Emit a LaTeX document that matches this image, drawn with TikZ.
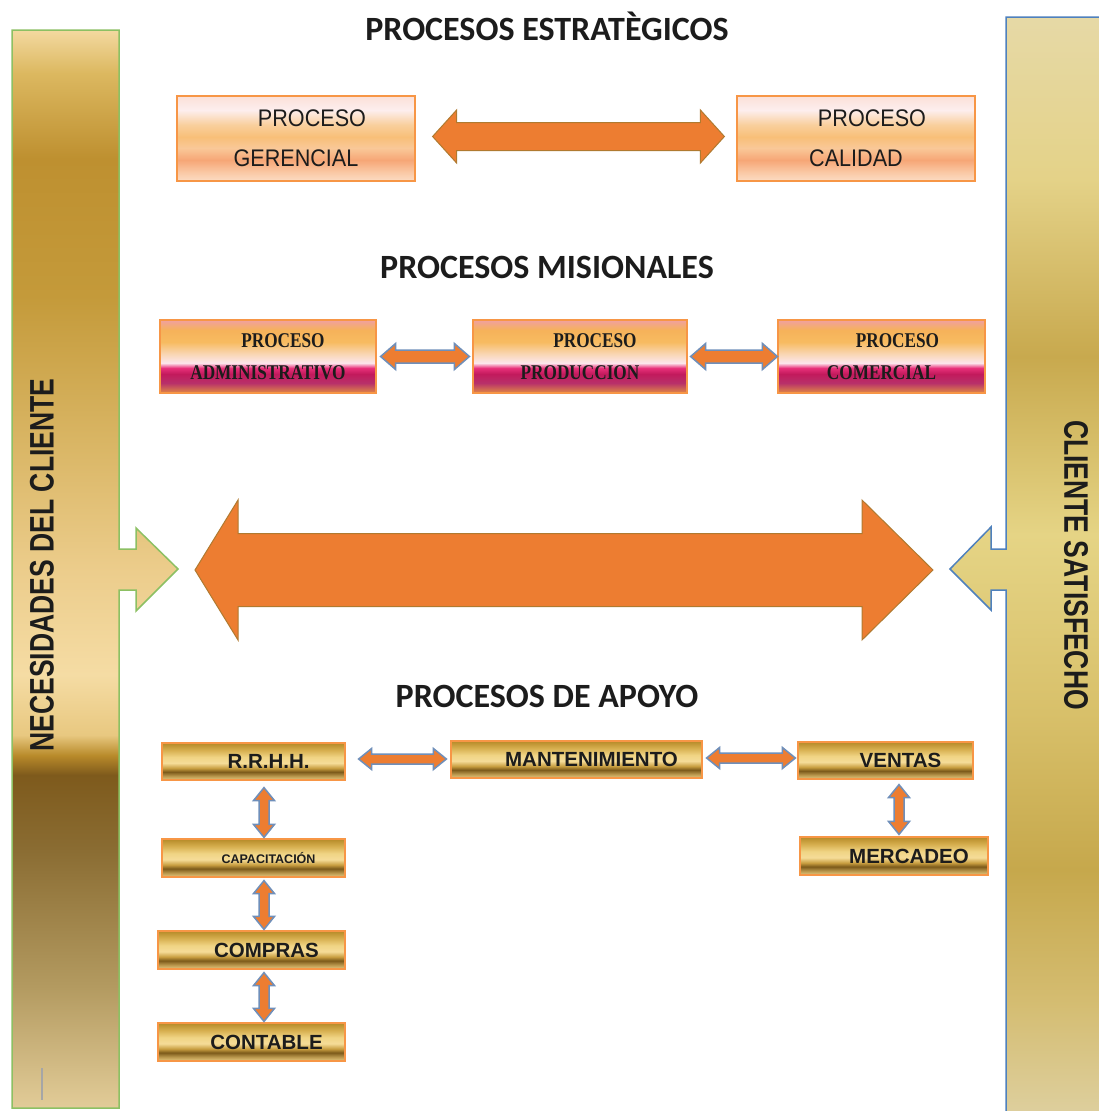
\documentclass[tikz,border=0pt]{standalone}
\usepackage{fontspec}
\setmainfont{Liberation Sans}
\newfontfamily\headfont{Carlito}
\newfontfamily\barfont[FakeStretch=0.78]{Liberation Sans}
\newfontfamily\narrowfont[FakeStretch=0.9]{Liberation Sans}
\newfontfamily\misfont[FakeStretch=0.82]{Liberation Serif}
\usetikzlibrary{calc}

\definecolor{txt}{HTML}{1C1C1C}
\definecolor{boxline}{HTML}{F79646}
\definecolor{flecha}{HTML}{ED7D31}
\definecolor{flechaborde}{HTML}{6F8FBA}
\definecolor{bigborde}{HTML}{B07A30}
\definecolor{verde}{HTML}{8CC063}
\definecolor{azul}{HTML}{4F81BD}
%% strategic boxes
\definecolor{estA}{HTML}{FCDCC4}
\definecolor{estB}{HTML}{FAC8A4}
\definecolor{estC}{HTML}{F6A676}
\definecolor{estD}{HTML}{F9C898}
\definecolor{estE}{HTML}{F8BF78}
\definecolor{estF}{HTML}{F9CF9C}
\definecolor{estG}{HTML}{FDEEEE}
\definecolor{estH}{HTML}{FBE0D8}
\pgfdeclareverticalshading{estshade}{100bp}{color(0bp)=(estA); color(25bp)=(estA); color(30.3bp)=(estB); color(37.35bp)=(estC); color(44.4bp)=(estD); color(50.9bp)=(estE); color(57.95bp)=(estF); color(66.75bp)=(estG); color(75bp)=(estH); color(100bp)=(estH)}
%% mission boxes
\definecolor{misA}{HTML}{E08A44}
\definecolor{misB}{HTML}{B8306A}
\definecolor{misC}{HTML}{C21A5C}
\definecolor{misD}{HTML}{E8307A}
\definecolor{misE}{HTML}{FCE6EC}
\definecolor{misF}{HTML}{F9D6B4}
\definecolor{misG}{HTML}{F7BB60}
\definecolor{misH}{HTML}{F6B25A}
\definecolor{misI}{HTML}{F0A0A0}
\pgfdeclareverticalshading{misshade}{100bp}{color(0bp)=(misA); color(25bp)=(misA); color(31.85bp)=(misB); color(38bp)=(misC); color(42.1bp)=(misD); color(45.55bp)=(misE); color(51.7bp)=(misF); color(59.95bp)=(misG); color(68.15bp)=(misH); color(75bp)=(misI); color(100bp)=(misI)}
%% support boxes
\definecolor{goldA}{HTML}{E6CA80}
\definecolor{goldB}{HTML}{B8964C}
\definecolor{goldC}{HTML}{7C5A1A}
\definecolor{goldD}{HTML}{C89E40}
\definecolor{goldE}{HTML}{F5DC98}
\definecolor{goldF}{HTML}{F0D484}
\definecolor{goldG}{HTML}{D6AE4E}
\definecolor{goldH}{HTML}{B58A28}
\pgfdeclareverticalshading{goldshade}{100bp}{color(0bp)=(goldA); color(25bp)=(goldA); color(30.5bp)=(goldB); color(36bp)=(goldC); color(41bp)=(goldD); color(48bp)=(goldE); color(56bp)=(goldF); color(65.5bp)=(goldG); color(75bp)=(goldH); color(100bp)=(goldH)}
%% left bar
\definecolor{lbA}{HTML}{E2CC98}
\definecolor{lbB}{HTML}{B39A60}
\definecolor{lbC}{HTML}{8A6C32}
\definecolor{lbD}{HTML}{7E5A1C}
\definecolor{lbE}{HTML}{B88A2A}
\definecolor{lbF}{HTML}{E8C880}
\definecolor{lbG}{HTML}{F5DCA4}
\definecolor{lbH}{HTML}{ECCD8C}
\definecolor{lbI}{HTML}{D8B462}
\definecolor{lbJ}{HTML}{C49A3A}
\definecolor{lbK}{HTML}{BE9030}
\definecolor{lbL}{HTML}{DCB860}
\definecolor{lbM}{HTML}{F3D9A0}
\pgfdeclareverticalshading{leftshade}{100bp}{color(0bp)=(lbA); color(25bp)=(lbA); color(30.65bp)=(lbB); color(37.05bp)=(lbC); color(40.45bp)=(lbD); color(41.35bp)=(lbE); color(42.3bp)=(lbF); color(45.1bp)=(lbG); color(49.85bp)=(lbH); color(56.25bp)=(lbI); color(62.65bp)=(lbJ); color(69.05bp)=(lbK); color(73bp)=(lbL); color(75bp)=(lbM); color(100bp)=(lbM)}
%% right bar
\definecolor{rbA}{HTML}{DED0A0}
\definecolor{rbB}{HTML}{D4BC70}
\definecolor{rbC}{HTML}{C6A84C}
\definecolor{rbD}{HTML}{D8C06A}
\definecolor{rbE}{HTML}{E5D485}
\definecolor{rbF}{HTML}{C8A94E}
\definecolor{rbG}{HTML}{E4D288}
\definecolor{rbH}{HTML}{E6D9A6}
\pgfdeclareverticalshading{rightshade}{100bp}{color(0bp)=(rbA); color(25bp)=(rbA); color(30.5bp)=(rbB); color(36.35bp)=(rbC); color(43.45bp)=(rbD); color(51.55bp)=(rbE); color(59.6bp)=(rbF); color(67.65bp)=(rbG); color(75bp)=(rbH); color(100bp)=(rbH)}

\begin{document}
\begin{tikzpicture}[x=1pt,y=-1pt,
        every node/.style={inner sep=0pt,text=txt},
        titulo/.style={font=\headfont\bfseries\fontsize{34}{38}\selectfont},
        barra/.style={font=\barfont\bfseries\fontsize{34}{40}\selectfont},
        estbox/.style={draw=boxline,line width=1.2pt,shading=estshade,minimum width=238pt,minimum height=85pt,align=center,font=\narrowfont\fontsize{24}{40}\selectfont},
        misbox/.style={draw=boxline,line width=1.2pt,shading=misshade,minimum height=73pt,align=center,font=\misfont\bfseries\fontsize{21}{32}\selectfont},
        apobox/.style={draw=boxline,line width=1.2pt,shading=goldshade,minimum height=37pt,font=\bfseries\fontsize{20.5}{24}\selectfont,execute at begin node={\hspace*{30pt}}},
        fatarrow/.style n args={4}{to path={
            -- ($(\tikztostart)!#1!(\tikztotarget)!#3!90:(\tikztotarget)$)
            -- ($(\tikztostart)!#1!(\tikztotarget)!#4!90:(\tikztotarget)$)
            -- ($(\tikztotarget)!#2!(\tikztostart)!#4!-90:(\tikztostart)$)
            -- ($(\tikztotarget)!#2!(\tikztostart)!#3!-90:(\tikztostart)$)
            -- (\tikztotarget)
            -- ($(\tikztotarget)!#2!(\tikztostart)!#3!90:(\tikztostart)$)
            -- ($(\tikztotarget)!#2!(\tikztostart)!#4!90:(\tikztostart)$)
            -- ($(\tikztostart)!#1!(\tikztotarget)!#4!-90:(\tikztotarget)$)
            -- ($(\tikztostart)!#1!(\tikztotarget)!#3!-90:(\tikztotarget)$)
            -- cycle}},
        misflecha/.style={fatarrow={15pt}{15pt}{13pt}{6.5pt},fill=flecha,draw=flechaborde,line width=1.5pt},
        apoflecha/.style={fatarrow={13pt}{13pt}{10.5pt}{5pt},fill=flecha,draw=flechaborde,line width=1.5pt}
    ]
    \useasboundingbox (0,0) rectangle (1098,1111);
    \fill[white] (0,0) rectangle (1098,1111);
    %% Side bars
    \shadedraw[shading=leftshade,draw=verde,line width=1.5pt] (12,30) -- (119,30) -- (119,549) -- (136,549) -- (136,528) -- (178,569) -- (136,611) -- (136,590) -- (119,590) -- (119,1108) -- (12,1108) -- cycle;
    \shadedraw[shading=rightshade,draw=azul,line width=1.5pt] (1006,17) -- (1110,17) -- (1110,1120) -- (1006,1120) -- (1006,590) -- (991,590) -- (991,610) -- (950,569) -- (991,527) -- (991,549) -- (1006,549) -- cycle;
    \draw[gray!70,line width=1.5pt] (42,1068) -- (42,1100);
    \node[barra,rotate=90] (necesidades) at (42,565) {NECESIDADES DEL CLIENTE};
    \node[barra,rotate=-90] (satisfecho) at (1076,565) {CLIENTE SATISFECHO};
    %% Headings
    \node[titulo] (hest) at (547,26) {PROCESOS ESTRATÈGICOS};
    \node[titulo] (hmis) at (547,267) {PROCESOS MISIONALES};
    \node[titulo] (hapo) at (547,696) {PROCESOS DE APOYO};
    %% Strategic processes
    \node[estbox] (ger) at (296,138.5) {\hspace*{32pt}PROCESO\\GERENCIAL};
    \node[estbox] (cal) at (856,138.5) {\hspace*{32pt}PROCESO\\CALIDAD};
    \draw[fatarrow={24pt}{24pt}{26.5pt}{14pt},fill=flecha,draw=bigborde,line width=1pt] ([xshift=17pt,yshift=2pt]ger.east) to ([xshift=-12pt,yshift=2pt]cal.west);
    %% Mission processes
    \node[misbox,minimum width=216pt] (adm) at (268,356.5) {\hspace*{30pt}PROCESO\\ADMINISTRATIVO};
    \node[misbox,minimum width=214pt] (prod) at (580,356.5) {\hspace*{30pt}PROCESO\\PRODUCCION};
    \node[misbox,minimum width=207pt] (com) at (881.5,356.5) {\hspace*{32pt}PROCESO\\COMERCIAL};
    \draw[misflecha] ([xshift=4pt]adm.east) to ([xshift=-3pt]prod.west);
    \draw[misflecha] ([xshift=3pt]prod.east) to (com.west);
    %% Big arrow
    \coordinate (izq) at (195,570);
    \coordinate (der) at (933,570);
    \draw[fatarrow={43pt}{71pt}{70pt}{36.5pt},fill=flecha,draw=bigborde,line width=1pt] (izq) to (der);
    %% Support processes
    \node[apobox,minimum width=183pt] (rrhh) at (253.5,761.5) {R.R.H.H.};
    \node[apobox,minimum width=251pt] (mant) at (576.5,759.5) {MANTENIMIENTO};
    \node[apobox,minimum width=175pt] (ventas) at (885.5,760.5) {VENTAS};
    \node[apobox,minimum width=183pt,minimum height=38pt,font=\bfseries\fontsize{12.5}{15}\selectfont] (capac) at (253.5,858) {CAPACITACIÓN};
    \node[apobox,minimum width=188pt,minimum height=38pt] (merc) at (894,856) {MERCADEO};
    \node[apobox,minimum width=187pt,minimum height=38pt] (compras) at (251.5,950) {COMPRAS};
    \node[apobox,minimum width=187pt,minimum height=38pt] (contable) at (251.5,1042) {CONTABLE};
    \draw[apoflecha] ([xshift=13pt,yshift=2.5pt]rrhh.east) to ([xshift=-4pt,yshift=0.5pt]mant.west);
    \draw[apoflecha] ([xshift=4pt,yshift=1.5pt]mant.east) to ([xshift=-2pt,yshift=2.5pt]ventas.west);
    \draw[apoflecha] ([xshift=10.5pt,yshift=-7pt]rrhh.south) to ([xshift=10.5pt,yshift=1pt]capac.north);
    \draw[apoflecha] ([xshift=10.5pt,yshift=-3pt]capac.south) to ([xshift=12.5pt,yshift=1pt]compras.north);
    \draw[apoflecha] ([xshift=12.5pt,yshift=-3pt]compras.south) to ([xshift=12.5pt,yshift=1pt]contable.north);
    \draw[apoflecha] ([xshift=13.5pt,yshift=-5pt]ventas.south) to ([xshift=5pt,yshift=2pt]merc.north);
\end{tikzpicture}
\end{document}
